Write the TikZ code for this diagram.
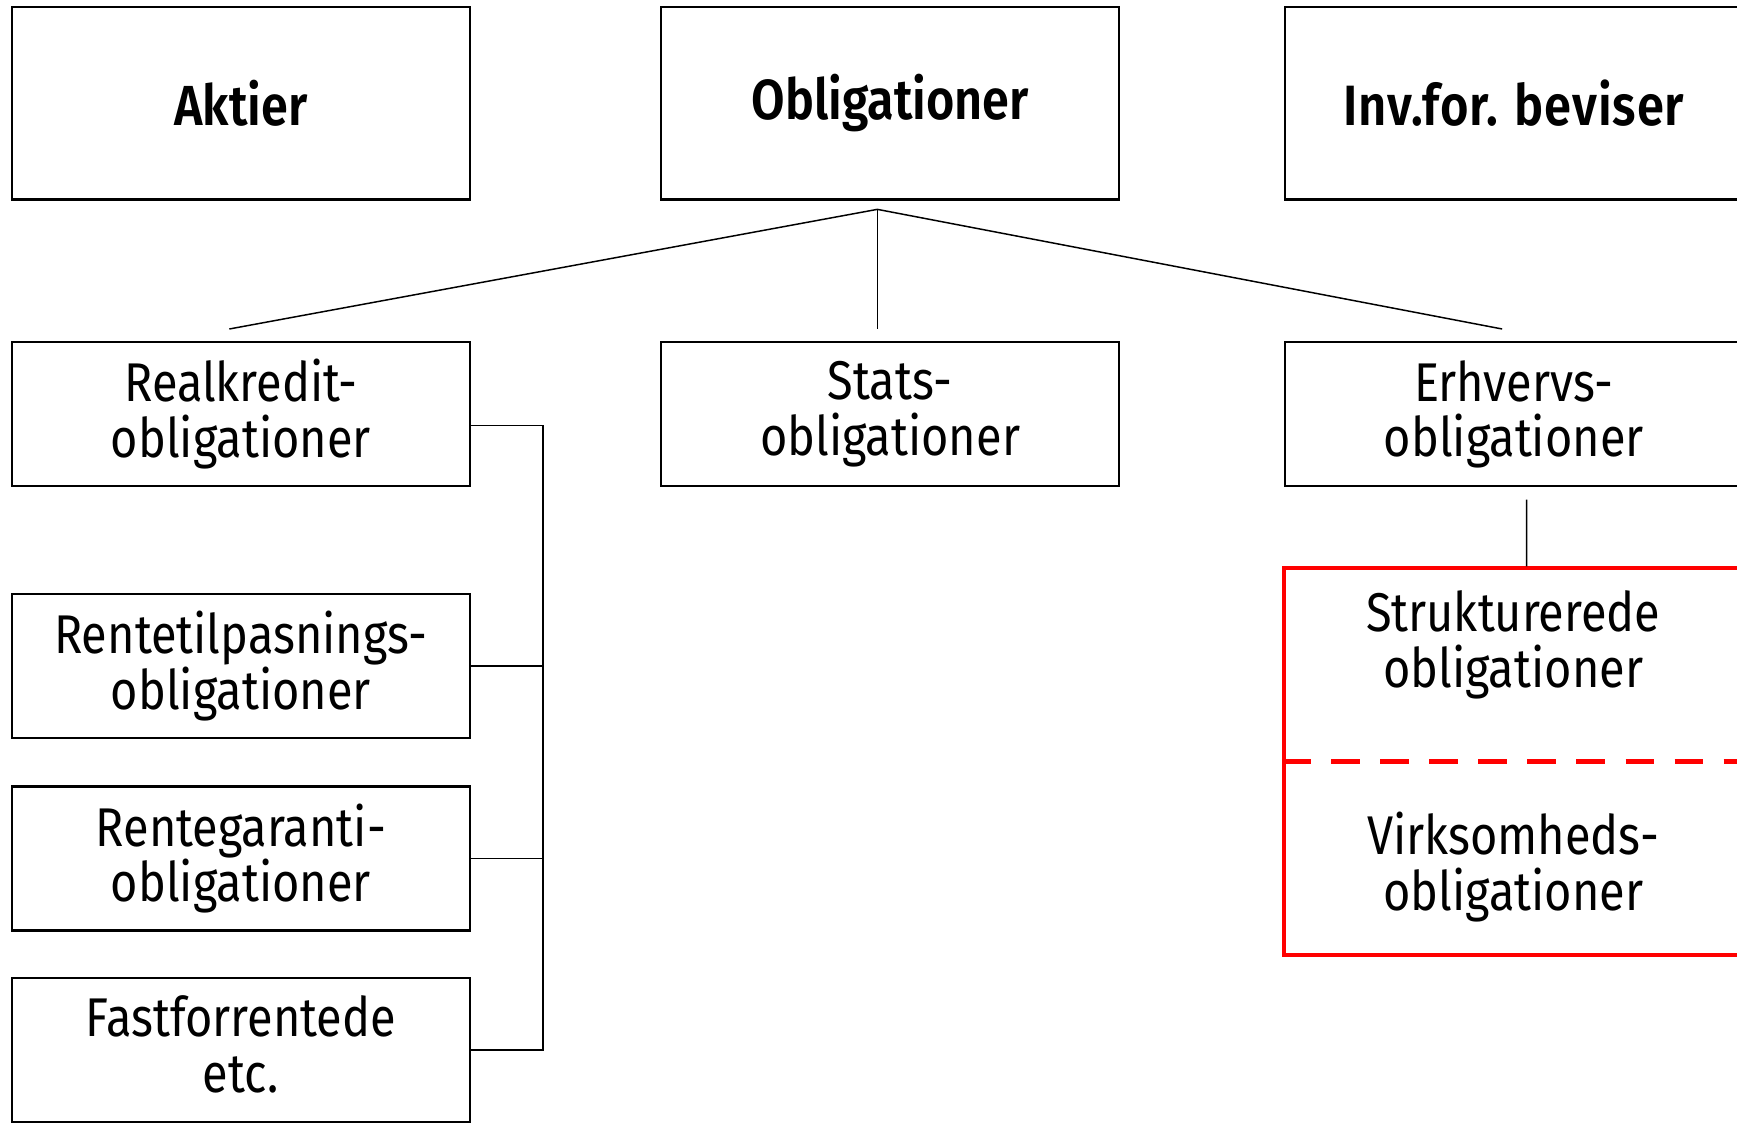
\documentclass[tikz,border=0pt]{standalone}
\usepackage{fontspec}
\setmainfont{Fira Sans}[FakeStretch=0.86, BoldFont={Fira Sans SemiBold}]
\begin{document}
\begin{tikzpicture}[x=0.01cm,y=-0.01cm,
  box/.style={draw, line width=0.55pt, minimum width=4.13cm, minimum height=1.30cm, inner sep=0pt, align=center, font=\fontsize{14}{14.3}\selectfont},
  topbox/.style={box, minimum height=1.74cm, font=\bfseries\fontsize{14.5}{15}\selectfont},
  lbl/.style={inner sep=0pt, align=center, font=\fontsize{14}{14.3}\selectfont},
  conn/.style={line width=0.38pt},
  redframe/.style={draw=red, line width=0.95pt, minimum width=4.14cm, minimum height=3.49cm, inner sep=0pt},
  reddash/.style={draw=red, line width=1.3pt, dash pattern=on 7.4pt off 5.2pt}]
\useasboundingbox (0,0) rectangle (1568,1013);
\clip (0,0) rectangle (1568,1013);
% top row
\node[topbox] (aktier) at (217.5,93) {Aktier};
\node[topbox] (oblig) at (803.5,93) {Obligationer};
\node[topbox, font=\bfseries\fontsize{14.6}{15}\selectfont\addfontfeature{LetterSpace=1.5}] (inv) at (1366.5,93) {Inv.for. beviser};
% second row
\node[box] (rk) at (217.5,374) {Realkredit-\\obligationer};
\node[box] (stats) at (803.5,374) {Stats-\\obligationer};
\node[box] (erh) at (1366.5,374) {Erhvervs-\\obligationer};
% left column
\node[box] (rt) at (217.5,601) {Rentetilpasnings-\\obligationer};
\node[box] (rg) at (217.5,775) {Rentegaranti-\\obligationer};
\node[box] (ff) at (217.5,948) {};
\node[lbl] (fflbl) at (217.5,943) {Fastforrentede\\etc.};
% red box
\node[redframe] (redbox) at (1366,687.5) {};
\draw[reddash] (redbox.west) -- (redbox.east);
\node[lbl] (struktlbl) at (1366,582) {Strukturerede\\obligationer};
\node[lbl] (virklbl) at (1366,783) {Virksomheds-\\obligationer};
% fork
\coordinate (fork) at (792,189);
\coordinate (rkTop) at (207,297);
\coordinate (stTop) at (792,297);
\coordinate (erTop) at (1356,297);
\draw[conn] (fork) -- (rkTop);
\draw[conn] (fork) -- (stTop);
\draw[conn] (fork) -- (erTop);
% bracket
\draw[conn] ([yshift=-0.1cm]rk.east) -- ++(0.65cm,0) coordinate (b1) -- (b1 |- ff.east) -- (ff.east);
\draw[conn] (rt.east) -- (b1 |- rt.east);
\draw[conn] (rg.east) -- (b1 |- rg.east);
% erhverv to red box
\draw[conn] ([xshift=0.115cm,yshift=-0.11cm]erh.south) -- ([xshift=0.12cm]redbox.north);
\end{tikzpicture}
\end{document}
